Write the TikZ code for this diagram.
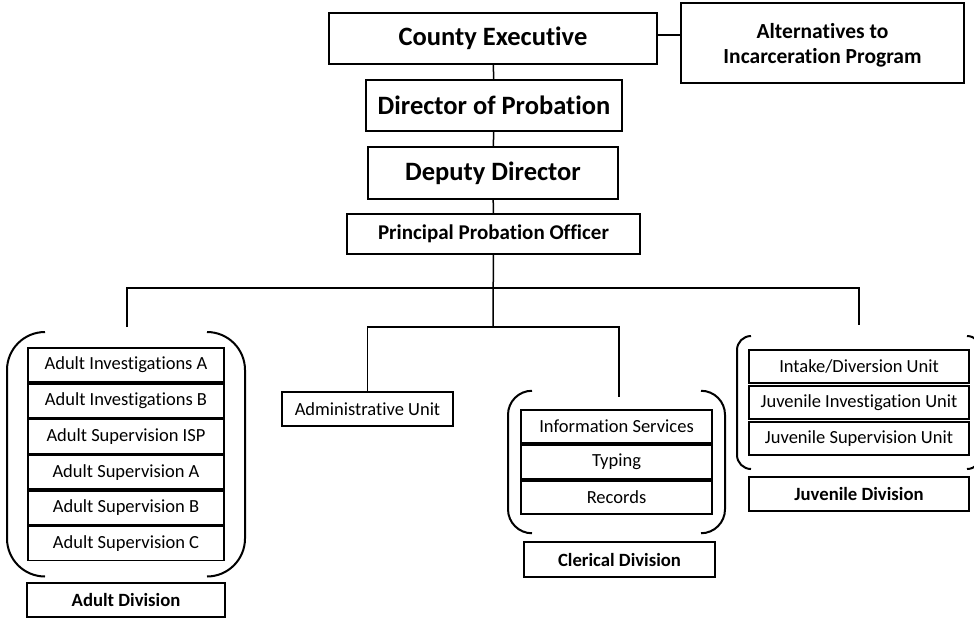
\documentclass[tikz,border=0pt]{standalone}
\usepackage{fontspec}
\setmainfont{Carlito}[Ligatures={NoCommon,NoRare,NoContextual}]
\usetikzlibrary{calc, fit}

\tikzset{
	headbox/.style={draw, line width=1.8pt, inner sep=0pt, font=\fontsize{26.5}{30}\selectfont\bfseries},
	altbox/.style={draw, line width=1.8pt, inner sep=0pt, align=center, font=\fontsize{21.5}{25}\selectfont\bfseries},
	officerbox/.style={draw, line width=1.8pt, inner sep=0pt, font=\fontsize{21}{24}\selectfont\bfseries},
	unitbox/.style={draw, line width=1.6pt, inner sep=0pt, font=\fontsize{18.5}{22}\selectfont},
	divbox/.style={draw, line width=1.6pt, inner sep=0pt, font=\fontsize{18.7}{22}\selectfont\bfseries},
	link/.style={line width=1.5pt},
	bracket/.style={line width=2pt},
}

% rounded parenthesis on both sides of a group node
\newcommand{\grpbracket}[2]{%
	\draw[bracket, rounded corners=#2] ([xshift=#2]#1.north west) -- (#1.north west) -- (#1.south west) -- ([xshift=#2]#1.south west);
	\draw[bracket, rounded corners=#2] ([xshift=-#2]#1.north east) -- (#1.north east) -- (#1.south east) -- ([xshift=-#2]#1.south east);
}

\begin{document}
\begin{tikzpicture}[x=1pt, y=-1pt]
	\useasboundingbox (0,0) rectangle (974,619);
	\def\adultlabels{Adult Investigations A, Adult Investigations B, Adult Supervision ISP, Adult Supervision A, Adult Supervision B, Adult Supervision C}
	\def\clericallabels{Information Services, Typing, Records}
	\def\juvenilelabels{Intake/Diversion Unit, Juvenile Investigation Unit, Juvenile Supervision Unit}
	
	% top of the chart
	\node[headbox, minimum width=328, minimum height=51] (exec) at (493,38.5) {County Executive};
	\node[altbox, minimum width=283, minimum height=80] (alt) at (822.5,43) {\rule{0pt}{19pt}Alternatives to\\Incarceration Program};
	\node[headbox, minimum width=256, minimum height=51] (dir) at (494,105.5) {Director of Probation};
	\node[headbox, minimum width=250, minimum height=52] (dep) at (493,173) {Deputy Director};
	\node[officerbox, minimum width=293, minimum height=40] (ppo) at (493.5,234) {Principal Probation Officer};
	
	% adult division
	\foreach \lbl [count=\i] in \adultlabels {
		\node[unitbox, minimum width=196, minimum height=34] (adult\i) at (126,{329.3+\i*35.7}) {\lbl};
	}
	\node[fit=(adult1)(adult6), inner xsep=20, inner ysep=15] (adultgrp) {};
	\node[divbox, minimum width=198, minimum height=34] (adultdiv) at (126,600) {Adult Division};
	
	% administrative unit
	\node[unitbox, minimum width=171, minimum height=34] (admin) at (367.5,409) {Administrative Unit};
	
	% clerical division
	\foreach \lbl [count=\i] in \clericallabels {
		\node[unitbox, minimum width=191, minimum height=33.5] (clerical\i) at (616.5,{391+\i*35.5}) {\lbl};
	}
	\node[fit=(clerical1)(clerical3), inner xsep=12, inner ysep=18] (clericalgrp) {};
	\node[divbox, minimum width=191, minimum height=35] (clericaldiv) at (619.5,559.5) {Clerical Division};
	
	% juvenile division
	\foreach \lbl [count=\i] in \juvenilelabels {
		\node[unitbox, minimum width=220, minimum height=33] (juvenile\i) at (859,{330.5+\i*36}) {\lbl};
	}
	\node[fit=(juvenile1)(juvenile3), inner xsep=11, inner ysep=13] (juvenilegrp) {};
	\node[divbox, minimum width=220, minimum height=34] (juvenilediv) at (859,494) {Juvenile Division};
	
	% draw brackets
	\grpbracket{adultgrp}{38}
	\grpbracket{clericalgrp}{24}
	\grpbracket{juvenilegrp}{14}
	
	% draw connectors
	\coordinate (bus) at (493,288);
	\coordinate (split) at (493,327);
	\coordinate (adulttop) at (127,327);
	\coordinate (clericaltop) at (619,397);
	\coordinate (juveniletop) at (859,325);
	\draw[link] ([yshift=3.5]exec.east) -- ([yshift=3.5]exec.east -| alt.west);
	\draw[link] (exec) -- (dir);
	\draw[link] (dir) -- (dep);
	\draw[link] (dep) -- (ppo);
	\draw[link] (ppo) -- (split);
	\draw[link] (adulttop) |- (bus) -| (juveniletop);
	\draw[link] (admin) |- (split) -| (clericaltop);
\end{tikzpicture}
\end{document}
